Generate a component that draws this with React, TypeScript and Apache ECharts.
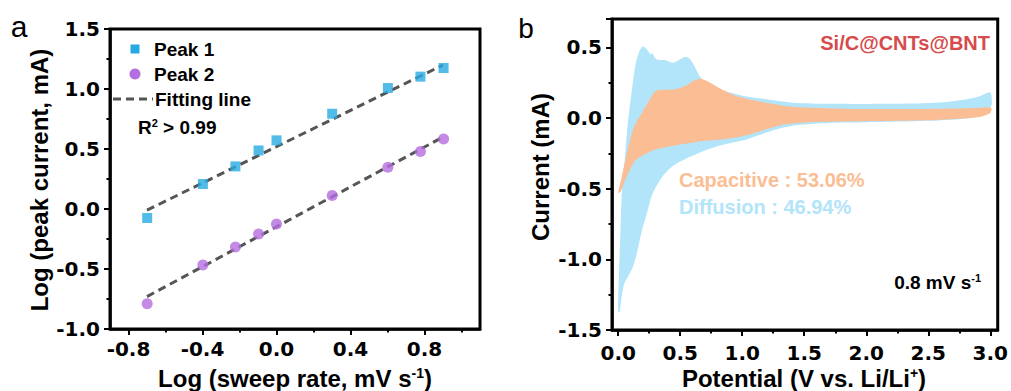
import React, { useEffect, useRef } from 'react';
import * as echarts from 'echarts';

// ---------- Panel a data ----------
const logRate = [-0.699, -0.398, -0.222, -0.097, 0, 0.301, 0.602, 0.778, 0.903];
const peak1 = [-0.075, 0.208, 0.355, 0.488, 0.572, 0.794, 1.008, 1.103, 1.175];
const peak2 = [-0.789, -0.467, -0.317, -0.208, -0.125, 0.113, 0.347, 0.48, 0.583];
const fit1 = [[-0.7, -0.01], [0.9, 1.2]];
const fit2 = [[-0.7, -0.73], [0.9, 0.6]];
const aXTicks = [-0.8, -0.4, 0, 0.4, 0.8];
const aXMinor = [-0.6, -0.2, 0.2, 0.6, 1.0];
const aXRange = [-0.9, 1.1];
const aYRange = [-1.0, 1.5];

// ---------- Panel b data ----------
const blueAnodic = [
  [0.0, -1.37], [0.006, -1.12], [0.018, -0.8], [0.03, -0.53], [0.05, -0.33], [0.075, -0.06],
  [0.105, 0.16], [0.14, 0.38], [0.17, 0.47], [0.195, 0.505], [0.215, 0.5], [0.24, 0.475],
  [0.26, 0.45], [0.275, 0.46], [0.3, 0.42], [0.33, 0.41], [0.375, 0.41], [0.44, 0.39],
  [0.49, 0.41], [0.53, 0.43], [0.57, 0.425], [0.6, 0.39], [0.63, 0.34], [0.67, 0.28],
  [0.75, 0.235], [0.86, 0.19], [1.02, 0.153], [1.18, 0.134], [1.41, 0.108], [1.7, 0.1],
  [2.2, 0.1], [2.6, 0.11], [2.8, 0.13], [2.92, 0.155], [3.0, 0.18],
];
const blueCathodic = [
  [3.01, 0.09], [2.95, 0.03], [2.85, 0.0], [2.5, -0.02], [2.0, -0.03], [1.7, -0.035],
  [1.45, -0.05], [1.3, -0.075], [1.14, -0.12], [1.0, -0.16], [0.8, -0.2], [0.67, -0.24],
  [0.54, -0.29], [0.44, -0.34], [0.36, -0.41], [0.31, -0.48], [0.27, -0.55], [0.23, -0.68],
  [0.19, -0.8], [0.15, -0.96], [0.12, -1.05], [0.08, -1.12], [0.05, -1.17], [0.03, -1.25],
  [0.02, -1.32], [0.014, -1.37],
];
const orangeAnodic = [
  [0.0, -0.53], [0.015, -0.47], [0.03, -0.41], [0.07, -0.25], [0.12, -0.08], [0.16, -0.01],
  [0.2, 0.05], [0.24, 0.11], [0.29, 0.18], [0.32, 0.198], [0.38, 0.2], [0.45, 0.202],
  [0.51, 0.215], [0.56, 0.235], [0.6, 0.26], [0.66, 0.278], [0.72, 0.26], [0.78, 0.23],
  [0.84, 0.2], [0.96, 0.153], [1.13, 0.118], [1.4, 0.08], [1.94, 0.064], [2.48, 0.064],
  [2.88, 0.07], [2.97, 0.076], [3.01, 0.07],
];
const orangeCathodic = [
  [3.0, 0.035], [2.9, 0.005], [2.48, -0.017], [1.94, -0.024], [1.54, -0.03], [1.35, -0.045],
  [1.27, -0.06], [1.14, -0.095], [1.02, -0.125], [0.85, -0.15], [0.67, -0.165], [0.49, -0.19],
  [0.3, -0.224], [0.19, -0.27], [0.14, -0.3], [0.11, -0.34], [0.056, -0.44], [0.02, -0.52],
];
const bXTicks = [0, 0.5, 1, 1.5, 2, 2.5, 3];
const bXMinor = [0.25, 0.75, 1.25, 1.75, 2.25, 2.75];
const bXRange = [-0.05, 3.06];
const bYRange = [-1.5, 0.7];

const C_PEAK1 = '#27AAE1';
const C_PEAK2 = '#B46EE0';
const C_BLUE = '#B2E4FA';
const C_ORANGE = '#FBBE94';
const C_RED = '#D64B4B';
const TICK_FONT = 'DejaVu Sans';
const TXT_FONT = 'Liberation Sans';

const tickLabel = (margin: number) => ({
  fontFamily: TICK_FONT,
  fontWeight: 'bold',
  fontSize: 20,
  lineHeight: 20,
  color: '#000',
  margin,
  formatter: (v: number) => Number(v).toFixed(1),
});
const mkAxisLine = () => ({ show: true, onZero: false, lineStyle: { color: '#000', width: 2.5 } });
const majorTick = () => ({ show: true, length: 6, lineStyle: { color: '#000', width: 2 } });
const minorTickStyle = () => ({ show: true, length: 3.5, lineStyle: { color: '#000', width: 2 } });

const loopSeries = (pts: number[][], color: string) => ({
  type: 'custom',
  coordinateSystem: 'cartesian2d',
  xAxisIndex: 2,
  yAxisIndex: 1,
  silent: true,
  clip: false,
  data: pts,
  renderItem: (params: any, api: any) => {
    if (params.dataIndex !== 0) return null;
    const points = pts.map((p) => api.coord(p));
    return {
      type: 'polygon',
      shape: { points, smooth: 0.25 },
      style: { fill: color, stroke: null },
    };
  },
});

// frame of a plot drawn by a custom series from the axis extents
const frameSeries = (xi: number, yi: number, xr: number[], yr: number[]) => ({
  type: 'custom',
  coordinateSystem: 'cartesian2d',
  xAxisIndex: xi,
  yAxisIndex: yi,
  silent: true,
  clip: false,
  z: 10,
  data: [[xr[0], yr[0]]],
  renderItem: (_p: any, api: any) => {
    const a = api.coord([xr[0], yr[1]]);
    const b = api.coord([xr[1], yr[0]]);
    return {
      type: 'rect',
      shape: { x: a[0], y: a[1], width: b[0] - a[0], height: b[1] - a[1] },
      style: { fill: 'rgba(0,0,0,0)', stroke: '#000', lineWidth: 3 },
    };
  },
});

const titleRich = (color = '#000', size = 24) => ({
  t: { fontFamily: TXT_FONT, fontWeight: 'bold', fontSize: size, color },
  s: { fontFamily: TXT_FONT, fontWeight: 'bold', fontSize: Math.round(size * 0.6), color, verticalAlign: 'top' },
});

export default function App() {
  const ref = useRef<HTMLDivElement>(null);
  useEffect(() => {
    if (!ref.current) return;
    const chart = echarts.init(ref.current, undefined, { renderer: 'svg' });
    const option: any = {
      animation: false,
      backgroundColor: '#fff',
      grid: [
        { left: 110, top: 29, width: 370, height: 300 },
        { left: 612, top: 19, width: 387, height: 311 },
      ],
      xAxis: [
        {
          type: 'value', gridIndex: 0, min: aXRange[0], max: aXRange[1], position: 'bottom',
          axisLine: mkAxisLine(), splitLine: { show: false },
          axisTick: { ...majorTick(), customValues: aXTicks },
          axisLabel: { ...tickLabel(10), customValues: aXTicks },
        },
        {
          type: 'value', gridIndex: 0, min: aXRange[0], max: aXRange[1], position: 'bottom', offset: 0,
          axisLine: { show: false, onZero: false }, splitLine: { show: false },
          axisTick: { ...minorTickStyle(), customValues: aXMinor },
          axisLabel: { show: false },
        },
        {
          type: 'value', gridIndex: 1, min: bXRange[0], max: bXRange[1], position: 'bottom',
          axisLine: mkAxisLine(), splitLine: { show: false },
          axisTick: { ...majorTick(), customValues: bXTicks },
          axisLabel: { ...tickLabel(13), customValues: bXTicks },
        },
        {
          type: 'value', gridIndex: 1, min: bXRange[0], max: bXRange[1], position: 'bottom', offset: 0,
          axisLine: { show: false, onZero: false }, splitLine: { show: false },
          axisTick: { ...minorTickStyle(), customValues: bXMinor },
          axisLabel: { show: false },
        },
      ],
      yAxis: [
        {
          type: 'value', gridIndex: 0, min: aYRange[0], max: aYRange[1], interval: 0.5, position: 'left',
          axisLine: mkAxisLine(), splitLine: { show: false }, axisTick: majorTick(),
          minorTick: { ...minorTickStyle(), splitNumber: 2 },
          axisLabel: tickLabel(10),
        },
        {
          type: 'value', gridIndex: 1, min: bYRange[0], max: bYRange[1], interval: 0.5, position: 'left',
          axisLine: mkAxisLine(), splitLine: { show: false }, axisTick: majorTick(),
          minorTick: { ...minorTickStyle(), splitNumber: 2 },
          axisLabel: { ...tickLabel(10), showMaxLabel: false },
        },
      ],
      series: [
        {
          name: 'Fitting line', type: 'line', xAxisIndex: 0, yAxisIndex: 0, data: fit1,
          symbol: 'none', z: 2, lineStyle: { color: '#555', width: 3, type: [8, 5] },
        },
        {
          name: 'Fitting line', type: 'line', xAxisIndex: 0, yAxisIndex: 0, data: fit2,
          symbol: 'none', z: 2, lineStyle: { color: '#555', width: 3, type: [8, 5] },
        },
        {
          name: 'Peak 1', type: 'scatter', xAxisIndex: 0, yAxisIndex: 0,
          data: logRate.map((x, i) => [x, peak1[i]]), symbol: 'rect', symbolSize: 10, z: 3,
          itemStyle: { color: C_PEAK1 },
        },
        {
          name: 'Peak 2', type: 'scatter', xAxisIndex: 0, yAxisIndex: 0,
          data: logRate.map((x, i) => [x, peak2[i]]), symbol: 'circle', symbolSize: 11, z: 3,
          itemStyle: { color: C_PEAK2 },
        },
        { name: 'Diffusion', ...loopSeries([...blueAnodic, ...blueCathodic], C_BLUE) },
        { name: 'Capacitive', ...loopSeries([...orangeAnodic, ...orangeCathodic], C_ORANGE) },
        { name: 'frameA', ...frameSeries(0, 0, aXRange, aYRange) },
        { name: 'frameB', ...frameSeries(2, 1, bXRange, bYRange) },
      ],
      graphic: [
        // panel letters
        { type: 'text', x: 19, y: 26, style: { text: 'a', font: '30px "Liberation Sans"', fill: '#000', align: 'center', verticalAlign: 'middle' } },
        { type: 'text', x: 526, y: 28, style: { text: 'b', font: '28px "Liberation Sans"', fill: '#000', align: 'center', verticalAlign: 'middle' } },
        // legend a
        { type: 'rect', shape: { x: 130.5, y: 44.5, width: 9, height: 9 }, style: { fill: C_PEAK1 } },
        { type: 'circle', shape: { cx: 135, cy: 74, r: 5.5 }, style: { fill: C_PEAK2 } },
        { type: 'line', shape: { x1: 113, y1: 99, x2: 153, y2: 99 }, style: { stroke: '#555', lineWidth: 3, lineDash: [8, 5] } },
        { type: 'text', x: 154, y: 49, style: { text: 'Peak 1', font: 'bold 19px "Liberation Sans"', fill: '#000', align: 'left', verticalAlign: 'middle' } },
        { type: 'text', x: 154, y: 74, style: { text: 'Peak 2', font: 'bold 19px "Liberation Sans"', fill: '#000', align: 'left', verticalAlign: 'middle' } },
        { type: 'text', x: 155, y: 99, style: { text: 'Fitting line', font: 'bold 19px "Liberation Sans"', fill: '#000', align: 'left', verticalAlign: 'middle' } },
        { type: 'text', x: 138, y: 127, style: { text: '{t|R}{s|2}{t| > 0.99}', rich: titleRich('#000', 19), align: 'left', verticalAlign: 'middle' } },
        // axis titles a
        { type: 'text', x: 39, y: 180, rotation: Math.PI / 2, style: { text: 'Log (peak current, mA)', font: 'bold 24px "Liberation Sans"', fill: '#000', align: 'center', verticalAlign: 'middle' } },
        { type: 'text', x: 295, y: 378, style: { text: '{t|Log (sweep rate, mV s}{s|-1}{t|)}', rich: titleRich(), align: 'center', verticalAlign: 'middle' } },
        // axis titles b
        { type: 'text', x: 540, y: 167, rotation: Math.PI / 2, style: { text: 'Current (mA)', font: 'bold 24px "Liberation Sans"', fill: '#000', align: 'center', verticalAlign: 'middle' } },
        { type: 'text', x: 804, y: 378, style: { text: '{t|Potential (V vs. Li/Li}{s|+}{t|)}', rich: titleRich(), align: 'center', verticalAlign: 'middle' } },
        // annotations b
        { type: 'text', x: 990, y: 43, style: { text: 'Si/C@CNTs@BNT', font: 'bold 20px "Liberation Sans"', fill: C_RED, align: 'right', verticalAlign: 'middle' } },
        { type: 'text', x: 679, y: 180, style: { text: 'Capacitive : 53.06%', font: 'bold 20px "Liberation Sans"', fill: C_ORANGE, align: 'left', verticalAlign: 'middle' } },
        { type: 'text', x: 679, y: 207, style: { text: 'Diffusion : 46.94%', font: 'bold 20px "Liberation Sans"', fill: C_BLUE, align: 'left', verticalAlign: 'middle' } },
        { type: 'text', x: 981, y: 282, style: { text: '{t|0.8 mV s}{s|-1}', rich: titleRich('#000', 19), align: 'right', verticalAlign: 'middle' } },
      ],
    };
    chart.setOption(option);
    return () => chart.dispose();
  }, []);
  return (
    <div
      ref={ref}
      style={{ position: 'fixed', left: 0, top: 0, width: 1011, height: 391, background: '#fff' }}
    />
  );
}
